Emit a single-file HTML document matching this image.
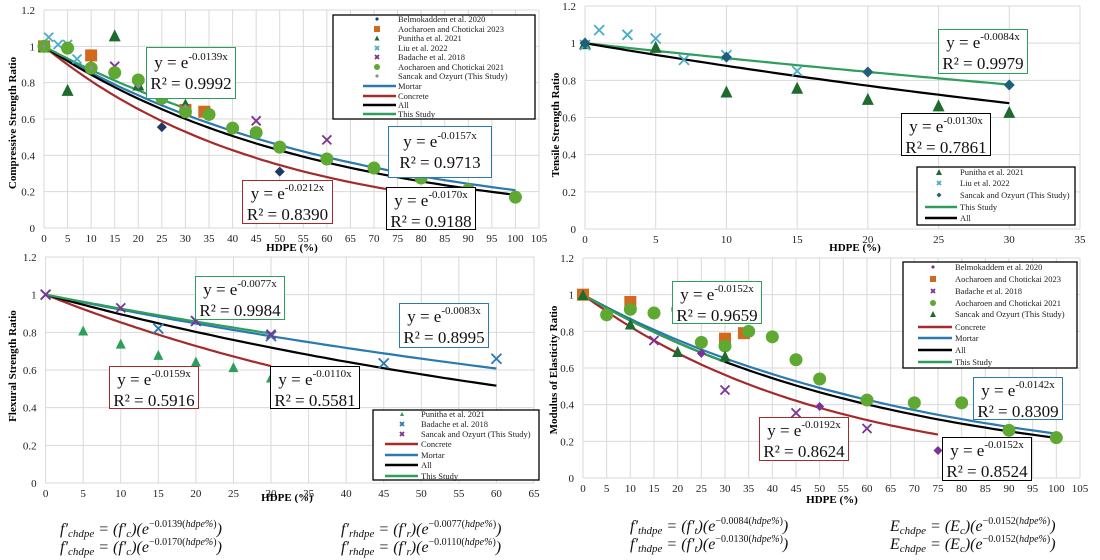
<!DOCTYPE html>
<html><head><meta charset="utf-8">
<style>
body{margin:0;background:#fff;}
#wrap{position:relative;width:1100px;height:560px;overflow:hidden;background:#fff;font-family:"Liberation Serif",serif;}
svg{position:absolute;left:0;top:0;}
.fbox{position:absolute;background:#fff;font-size:17px;line-height:21px;text-align:center;color:#111;padding-top:2px;box-sizing:border-box;white-space:nowrap;overflow:visible;}
.fbox sup{font-size:11px;vertical-align:8px;line-height:0;}
.form{position:absolute;font-family:"Liberation Serif",serif;font-size:16px;font-style:italic;line-height:18px;white-space:nowrap;color:#111;}
.form sub{font-size:11px;vertical-align:-3px;}
.form sup{font-size:10px;vertical-align:7px;font-style:normal;}
</style></head>
<body>
<div id="wrap">
<svg id="chart" width="1100" height="560"></svg>

<div class="fbox" style="left:146px;top:47px;width:90px;height:52px;border:1px solid #2e9e5b;padding-top:4px;">y = e<sup>-0.0139x</sup><br>R² = 0.9992</div>
<div class="fbox" style="left:388px;top:126px;width:104px;height:52px;border:1px solid #2a7ab0;padding-top:4px;">y = e<sup>-0.0157x</sup><br>R² = 0.9713</div>
<div class="fbox" style="left:242px;top:180px;width:91px;height:44px;border:1px solid #a52a2a;">y = e<sup>-0.0212x</sup><br>R² = 0.8390</div>
<div class="fbox" style="left:386px;top:187px;width:90px;height:43px;border:1px solid #000;">y = e<sup>-0.0170x</sup><br>R² = 0.9188</div>

<div class="fbox" style="left:938px;top:29px;width:90px;height:45px;border:1px solid #2e9e5b;">y = e<sup>-0.0084x</sup><br>R² = 0.9979</div>
<div class="fbox" style="left:901px;top:113px;width:90px;height:43px;border:1px solid #000;">y = e<sup>-0.0130x</sup><br>R² = 0.7861</div>

<div class="fbox" style="left:195px;top:276px;width:90px;height:44px;border:1px solid #2e9e5b;">y = e<sup>-0.0077x</sup><br>R² = 0.9984</div>
<div class="fbox" style="left:399px;top:303px;width:90px;height:45px;border:1px solid #2a7ab0;">y = e<sup>-0.0083x</sup><br>R² = 0.8995</div>
<div class="fbox" style="left:109px;top:366px;width:90px;height:43px;border:1px solid #a52a2a;">y = e<sup>-0.0159x</sup><br>R² = 0.5916</div>
<div class="fbox" style="left:270px;top:366px;width:90px;height:43px;border:1px solid #000;">y = e<sup>-0.0110x</sup><br>R² = 0.5581</div>

<div class="fbox" style="left:672px;top:281px;width:90px;height:43px;border:1px solid #2e9e5b;">y = e<sup>-0.0152x</sup><br>R² = 0.9659</div>
<div class="fbox" style="left:973px;top:377px;width:90px;height:43px;border:1px solid #2a7ab0;">y = e<sup>-0.0142x</sup><br>R² = 0.8309</div>
<div class="fbox" style="left:759px;top:417px;width:90px;height:44px;border:1px solid #a52a2a;">y = e<sup>-0.0192x</sup><br>R² = 0.8624</div>
<div class="fbox" style="left:942px;top:437px;width:90px;height:44px;border:1px solid #000;">y = e<sup>-0.0152x</sup><br>R² = 0.8524</div>

<div class="form" style="left:60px;top:516px;">f′<sub>chdpe</sub> = (f′<sub>c</sub>)(e<sup>−0.0139(<i>hdpe%</i>)</sup>)</div>
<div class="form" style="left:60px;top:534px;">f′<sub>chdpe</sub> = (f′<sub>c</sub>)(e<sup>−0.0170(<i>hdpe%</i>)</sup>)</div>
<div class="form" style="left:341px;top:516px;">f′<sub>rhdpe</sub> = (f′<sub>r</sub>)(e<sup>−0.0077(<i>hdpe%</i>)</sup>)</div>
<div class="form" style="left:341px;top:534px;">f′<sub>rhdpe</sub> = (f′<sub>r</sub>)(e<sup>−0.0110(<i>hdpe%</i>)</sup>)</div>
<div class="form" style="left:630px;top:513px;">f′<sub>thdpe</sub> = (f′<sub>t</sub>)(e<sup>−0.0084(<i>hdpe%</i>)</sup>)</div>
<div class="form" style="left:630px;top:531px;">f′<sub>thdpe</sub> = (f′<sub>t</sub>)(e<sup>−0.0130(<i>hdpe%</i>)</sup>)</div>
<div class="form" style="left:890px;top:513px;">E<sub>chdpe</sub> = (E<sub>c</sub>)(e<sup>−0.0152(<i>hdpe%</i>)</sup>)</div>
<div class="form" style="left:890px;top:531px;">E<sub>chdpe</sub> = (E<sub>c</sub>)(e<sup>−0.0152(<i>hdpe%</i>)</sup>)</div>
</div>

<script>
// ===== Panel A: compressive =====
const A_belmo_x=[25,50,75], A_belmo_y=[0.555,0.31,0.115];
const A_aoc23_x=[0,10,30,34], A_aoc23_y=[1,0.95,0.65,0.64];
const A_pun_x=[0,5,10,15,20,30], A_pun_y=[1,0.76,0.89,1.06,0.79,0.68];
const A_liu_x=[1,3,5,7], A_liu_y=[1.05,1.01,1.01,0.93];
const A_bad_x=[15,30,45,60], A_bad_y=[0.89,0.755,0.59,0.485];
const A_aoc21_x=[0,5,10,15,20,25,30,35,40,45,50,60,70,80,90,100];
const A_aoc21_y=[1,0.99,0.88,0.855,0.815,0.715,0.64,0.625,0.55,0.525,0.445,0.38,0.33,0.275,0.21,0.17];
const A_san_x=[0,10,20,30], A_san_y=[1,0.88,0.78,0.67];
const A_fit_k=[0.0157,0.0212,0.0170,0.0139], A_fit_end=[100,75,100,30];
// ===== Panel B: tensile =====
const B_pun_x=[0,5,10,15,20,25,30], B_pun_y=[1,0.98,0.74,0.76,0.70,0.665,0.63];
const B_liu_x=[0,1,3,5,7,10,15], B_liu_y=[0.99,1.07,1.045,1.025,0.91,0.935,0.85];
const B_san_x=[0,10,20,30], B_san_y=[1,0.925,0.845,0.775];
const B_fit_k=[0.0084,0.0130], B_fit_end=[30,30];
// ===== Panel C: flexural =====
const C_pun_x=[5,10,15,20,25,30], C_pun_y=[0.81,0.74,0.68,0.645,0.615,0.56];
const C_bad_x=[0,15,20,30,45,60], C_bad_y=[1,0.82,0.86,0.78,0.635,0.66];
const C_san_x=[0,10,20,30], C_san_y=[1,0.93,0.86,0.79];
const C_fit_k=[0.0159,0.0083,0.0110,0.0077], C_fit_end=[30,60,60,30];
// ===== Panel D: modulus =====
const D_belmo_x=[25,50,75], D_belmo_y=[0.68,0.39,0.15];
const D_aoc23_x=[0,10,30,34], D_aoc23_y=[1,0.96,0.76,0.79];
const D_bad_x=[15,30,45,60], D_bad_y=[0.75,0.48,0.355,0.27];
const D_aoc21_x=[5,10,15,20,25,30,35,40,45,50,60,70,80,90,100];
const D_aoc21_y=[0.89,0.92,0.90,0.92,0.74,0.72,0.80,0.77,0.645,0.54,0.425,0.41,0.41,0.26,0.22];
const D_san_x=[0,10,20,30], D_san_y=[1,0.84,0.69,0.665];
const D_fit_k=[0.0192,0.0142,0.0152,0.0152], D_fit_end=[75,100,100,30];
const Y_ticks=[0,0.2,0.4,0.6,0.8,1,1.2];
const Y_tick_labels=["0","0.2","0.4","0.6","0.8","1","1.2"];

const NS="http://www.w3.org/2000/svg";
const svg=document.getElementById('chart');
const C={navy:'#1f3864',orange:'#d2691e',dgreen:'#1e6b2e',lblue:'#4bacc6',purple:'#7b3294',green:'#5fa832',gray:'#8c8c8c',mortar:'#2a7ab0',concrete:'#a52a2a',all:'#000',study:'#2e9e5b',teal:'#1f5f7a',tri:'#2ca05a'};
function el(tag,attrs,parent){const e=document.createElementNS(NS,tag);for(const k in attrs)e.setAttribute(k,attrs[k]);(parent||svg).appendChild(e);return e;}

function makeAxes(p){
  p.sx=v=>p.px0+(p.px1-p.px0)*v/p.xmax;
  p.sy=v=>p.py0+(p.py1-p.py0)*v/1.2;
  const g=el('g',{});
  
  
  for(let x=0;x<=p.xmax;x+=p.xstep){
    const l=el('line',{x1:p.sx(x),x2:p.sx(x),y1:p.sy(1.2),y2:p.sy(0),stroke:'#d9d9d9','stroke-width':1},g);
    
    
    const t=el('text',{x:p.sx(x),y:p.sy(0)+14,'font-size':11,'text-anchor':'middle',fill:'#222','font-family':'Liberation Serif, serif'},g);
    t.textContent=String(x);
    
    
  }
  Y_ticks.forEach((v,i)=>{
    const l=el('line',{x1:p.sx(0),x2:p.sx(p.xmax),y1:p.sy(v),y2:p.sy(v),stroke:'#d9d9d9','stroke-width':1},g);
    
    
    const t=el('text',{x:p.sx(0)-9,y:p.sy(v)+4,'font-size':11,'text-anchor':'end',fill:'#222','font-family':'Liberation Serif, serif'},g);
    t.textContent=Y_tick_labels[i];
    
    
  });
  const xt=el('text',{x:p.xtx,y:p.xty,'font-size':11,'font-weight':'bold','text-anchor':'middle','font-family':'Liberation Serif, serif'},g);
  xt.textContent='HDPE (%)';
  
  
  const yt=el('text',{x:0,y:0,'font-size':11,'font-weight':'bold','text-anchor':'middle','font-family':'Liberation Serif, serif',transform:`translate(${p.ytx},${p.yty}) rotate(-90)`},g);
  yt.textContent=p.ytitle;
  
  
}
function marker(g,type,cx,cy,s,color){
  let m;
  if(type==='circle') m=el('circle',{cx:cx,cy:cy,r:s/2,fill:color},g);
  else if(type==='square') m=el('rect',{x:cx-s/2,y:cy-s/2,width:s,height:s,fill:color},g);
  else if(type==='diamond') m=el('polygon',{points:`${cx},${cy-s/2} ${cx+s/2},${cy} ${cx},${cy+s/2} ${cx-s/2},${cy}`,fill:color},g);
  else if(type==='triangle') m=el('polygon',{points:`${cx},${cy-s/2} ${cx+s/2},${cy+s/2} ${cx-s/2},${cy+s/2}`,fill:color},g);
  else { const h=s/2; m=el('path',{d:`M${cx-h},${cy-h}L${cx+h},${cy+h}M${cx+h},${cy-h}L${cx-h},${cy+h}`,stroke:color,'stroke-width':1.8,fill:'none'},g); }
  return m;
}
function scatter(p,name,xs,ys,type,s,color){
  const g=el('g',{});
  
  
  xs.forEach((x,i)=>{
    const m=marker(g,type,p.sx(x),p.sy(ys[i]),s,color);
    
    
  });
}
function fit(p,name,k,xend,color){
  let d='';
  for(let i=0;i<=60;i++){const x=xend*i/60;d+=(i?'L':'M')+p.sx(x).toFixed(1)+','+p.sy(Math.exp(-k*x)).toFixed(1);}
  const path=el('path',{d:d,stroke:color,'stroke-width':2.2,fill:'none'});
  
  
}
function legend(name,box,rows,mx,tx,lx0,lx1,ry){
  const g=el('g',{});
  
  
  el('rect',{x:box[0],y:box[1],width:box[2],height:box[3],fill:'#fff',stroke:'#000','stroke-width':1.3},g);
  rows.forEach((r,i)=>{
    const y=ry[i];
    const e=el('g',{},g);
    
    
    if(r[1]==='line') el('line',{x1:lx0,x2:lx1,y1:y,y2:y,stroke:r[2],'stroke-width':2.5},e);
    else marker(e,r[1],mx,y,r[3],r[2]);
    const t=el('text',{x:tx,y:y+3,'font-size':8.5,fill:'#222','font-family':'Liberation Serif, serif'},e);
    t.textContent=r[0];
  });
}

// Panel A
const pA={name:'compressive',px0:44,px1:539,xmax:105,xstep:5,py0:228,py1:10,xtx:292,xty:251,ytx:16,yty:123,ytitle:'Compressive Strength Ratio'};
makeAxes(pA);
fit(pA,'mortar-fit-compressive',A_fit_k[0],A_fit_end[0],C.mortar);
fit(pA,'concrete-fit-compressive',A_fit_k[1],A_fit_end[1],C.concrete);
fit(pA,'all-fit-compressive',A_fit_k[2],A_fit_end[2],C.all);
fit(pA,'this-study-fit-compressive',A_fit_k[3],A_fit_end[3],C.study);
scatter(pA,'belmokaddem-2020',A_belmo_x,A_belmo_y,'diamond',10,C.navy);
scatter(pA,'aocharoen-2023',A_aoc23_x,A_aoc23_y,'square',12,C.orange);
scatter(pA,'punitha-2021',A_pun_x,A_pun_y,'triangle',12,C.dgreen);
scatter(pA,'liu-2022',A_liu_x,A_liu_y,'x',9,C.lblue);
scatter(pA,'badache-2018',A_bad_x,A_bad_y,'x',9,C.purple);
scatter(pA,'aocharoen-2021',A_aoc21_x,A_aoc21_y,'circle',13,C.green);
scatter(pA,'sancak-ozyurt',A_san_x,A_san_y,'diamond',5,C.gray);
legend('legend-compressive',[333,15,202,104],[
 ['Belmokaddem et al. 2020','diamond',C.navy,4],['Aocharoen and Chotickai 2023','square',C.orange,6],
 ['Punitha et al. 2021','triangle',C.dgreen,5],['Liu et al. 2022','x',C.lblue,4],['Badache et al. 2018','x',C.purple,4],
 ['Aocharoen and Chotickai 2021','circle',C.green,6],['Sancak and Ozyurt (This Study)','diamond',C.gray,4],
 ['Mortar','line',C.mortar],['Concrete','line',C.concrete],['All','line',C.all],['This Study','line',C.study]],
 377,398,363,396,[19,29,38,48,57,67,76,86,96,105,114]);

// Panel B
const pB={name:'tensile',px0:585,px1:1080,xmax:35,xstep:5,py0:229,py1:6,xtx:855,xty:251,ytx:559,yty:125,ytitle:'Tensile Strength Ratio'};
makeAxes(pB);
fit(pB,'this-study-fit-tensile',B_fit_k[0],B_fit_end[0],C.study);
fit(pB,'all-fit-tensile',B_fit_k[1],B_fit_end[1],C.all);
scatter(pB,'punitha-2021-tensile',B_pun_x,B_pun_y,'triangle',12,C.dgreen);
scatter(pB,'liu-2022-tensile',B_liu_x,B_liu_y,'x',10,C.lblue);
scatter(pB,'sancak-ozyurt-tensile',B_san_x,B_san_y,'diamond',11,C.teal);
legend('legend-tensile',[917,167,158,58],[
 ['Punitha et al. 2021','triangle',C.dgreen,6],['Liu et al. 2022','x',C.lblue,4],['Sancak and Ozyurt (This Study)','diamond',C.teal,5],
 ['This Study','line',C.study],['All','line',C.all]],939,960,925,957,[172,183,195,207,218]);

// Panel C
const pC={name:'flexural',px0:45.6,px1:534,xmax:65,xstep:5,py0:483,py1:257,xtx:287,xty:501,ytx:16,yty:366,ytitle:'Flexural Strength Ratio'};
makeAxes(pC);
fit(pC,'concrete-fit-flexural',C_fit_k[0],C_fit_end[0],C.concrete);
fit(pC,'mortar-fit-flexural',C_fit_k[1],C_fit_end[1],C.mortar);
fit(pC,'all-fit-flexural',C_fit_k[2],C_fit_end[2],C.all);
fit(pC,'this-study-fit-flexural',C_fit_k[3],C_fit_end[3],C.study);
scatter(pC,'punitha-2021-flexural',C_pun_x,C_pun_y,'triangle',10,C.tri);
scatter(pC,'badache-2018-flexural',C_bad_x,C_bad_y,'x',10,C.mortar);
scatter(pC,'sancak-ozyurt-flexural',C_san_x,C_san_y,'x',9,C.purple);
legend('legend-flexural',[373,410,166,70],[
 ['Punitha et al. 2021','triangle',C.tri,4],['Badache et al. 2018','x',C.mortar,4],['Sancak and Ozyurt (This Study)','x',C.purple,4],
 ['Concrete','line',C.concrete],['Mortar','line',C.mortar],['All','line',C.all],['This Study','line',C.study]],
 402,421,385,418,[414,424,434,444,455,465,476]);

// Panel D
const pD={name:'modulus',px0:583,px1:1080,xmax:105,xstep:5,py0:478,py1:258,xtx:832,xty:503,ytx:557,yty:370,ytitle:'Modulus of Elasticity Ratio'};
makeAxes(pD);
fit(pD,'concrete-fit-modulus',D_fit_k[0],D_fit_end[0],C.concrete);
fit(pD,'mortar-fit-modulus',D_fit_k[1],D_fit_end[1],C.mortar);
fit(pD,'all-fit-modulus',D_fit_k[2],D_fit_end[2],C.all);
fit(pD,'this-study-fit-modulus',D_fit_k[3],D_fit_end[3],C.study);
scatter(pD,'belmokaddem-2020-modulus',D_belmo_x,D_belmo_y,'diamond',9,C.purple);
scatter(pD,'aocharoen-2023-modulus',D_aoc23_x,D_aoc23_y,'square',12,C.orange);
scatter(pD,'badache-2018-modulus',D_bad_x,D_bad_y,'x',9,C.purple);
scatter(pD,'aocharoen-2021-modulus',D_aoc21_x,D_aoc21_y,'circle',13,C.green);
scatter(pD,'sancak-ozyurt-modulus',D_san_x,D_san_y,'triangle',11,C.dgreen);
legend('legend-modulus',[903,262,174,106],[
 ['Belmokaddem et al. 2020','diamond',C.purple,4],['Aocharoen and Chotickai 2023','square',C.orange,6],
 ['Badache et al. 2018','x',C.purple,4],['Aocharoen and Chotickai 2021','circle',C.green,6],
 ['Sancak and Ozyurt (This Study)','triangle',C.dgreen,6],
 ['Concrete','line',C.concrete],['Mortar','line',C.mortar],['All','line',C.all],['This Study','line',C.study]],
 933,955,918,952,[267,279,291,303,314,327,338,350,362]);
</script>
</body></html>
